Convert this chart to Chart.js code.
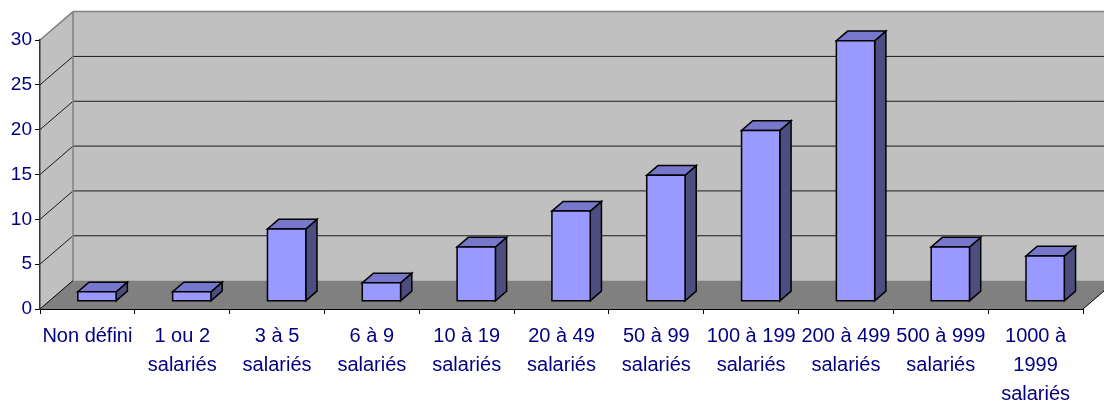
<!DOCTYPE html>
<html>
<head>
<meta charset="utf-8">
<script src="https://cdn.jsdelivr.net/npm/chart.js@4/dist/chart.umd.min.js"></script>
<style>
  html, body { margin: 0; padding: 0; background: #fff; }
  #wrap { width: 1104px; height: 405px; }
</style>
</head>
<body>
<div id="wrap"><canvas id="chart" width="1104" height="405"></canvas></div>
<script>
// categories (multi-line labels as in the original sheet)
const categories = [
  'Non défini',
  ['1 ou 2', 'salariés'],
  ['3 à 5', 'salariés'],
  ['6 à 9', 'salariés'],
  ['10 à 19', 'salariés'],
  ['20 à 49', 'salariés'],
  ['50 à 99', 'salariés'],
  ['100 à 199', 'salariés'],
  ['200 à 499', 'salariés'],
  ['500 à 999', 'salariés'],
  ['1000 à', '1999', 'salariés']
];
const counts = [1, 1, 8, 2, 6, 10, 14, 19, 29, 6, 5];
const yTicks = [0, 5, 10, 15, 20, 25, 30];

// 3d look: depth vector of the floor, and where the bars sit in it
const DEPTH_X = 33;
const DEPTH_Y = -28.4;
const BAR_FRONT = 0.29;
const BAR_BACK = 0.63;
const BAR_WIDTH = 0.404;

const LABEL_COLOR = '#000080';

function poly(ctx, pts, fill, stroke, lw) {
  ctx.beginPath();
  ctx.moveTo(pts[0][0], pts[0][1]);
  for (let i = 1; i < pts.length; i++) ctx.lineTo(pts[i][0], pts[i][1]);
  ctx.closePath();
  if (fill) { ctx.fillStyle = fill; ctx.fill(); }
  if (stroke) { ctx.strokeStyle = stroke; ctx.lineWidth = lw || 1; ctx.stroke(); }
}

function line(ctx, x0, y0, x1, y1, color, lw) {
  ctx.beginPath();
  ctx.moveTo(x0, y0);
  ctx.lineTo(x1, y1);
  ctx.strokeStyle = color;
  ctx.lineWidth = lw || 1;
  ctx.stroke();
}

const walls3d = {
  id: 'walls3d',
  beforeDraw(chart) {
    const { ctx, chartArea: a, scales } = chart;
    const ys = scales.y;
    const dx = DEPTH_X, dy = DEPTH_Y;
    ctx.save();
    // back wall
    poly(ctx, [[a.left + dx, a.top + dy], [a.right + dx, a.top + dy],
               [a.right + dx, a.bottom + dy], [a.left + dx, a.bottom + dy]], '#c0c0c0');
    // side wall
    poly(ctx, [[a.left, a.top], [a.left + dx, a.top + dy],
               [a.left + dx, a.bottom + dy], [a.left, a.bottom]], '#c0c0c0');
    // floor
    poly(ctx, [[a.left, a.bottom], [a.left + dx, a.bottom + dy],
               [a.right + dx, a.bottom + dy], [a.right, a.bottom]], '#808080');

    // grid lines on both walls
    yTicks.forEach(v => {
      if (v === 0) return;
      const y = ys.getPixelForValue(v);
      const c = v === ys.max ? '#808080' : '#1a1a1a';
      const w = v === ys.max ? 1.5 : 1;
      line(ctx, a.left, y, a.left + dx, y + dy, c, w);
      line(ctx, a.left + dx, y + dy, a.right + dx, y + dy, c, w);
    });
    // wall corner
    line(ctx, a.left + dx, a.top + dy, a.left + dx, a.bottom + dy, '#808080', 1.5);
    // floor edges
    line(ctx, a.left, a.bottom, a.left + dx, a.bottom + dy, '#000', 1);
    line(ctx, a.right, a.bottom, a.right + dx, a.bottom + dy, '#000', 1);
    ctx.restore();
  },
  afterDatasetsDraw(chart) {
    const { ctx, scales } = chart;
    const xs = scales.x, ys = scales.y;
    const catW = xs.getPixelForValue(1) - xs.getPixelForValue(0);
    const w = catW * BAR_WIDTH;
    const ox = DEPTH_X * BAR_FRONT, oy = DEPTH_Y * BAR_FRONT;
    const bx = DEPTH_X * (BAR_BACK - BAR_FRONT), by = DEPTH_Y * (BAR_BACK - BAR_FRONT);
    ctx.save();
    ctx.lineJoin = 'miter';
    counts.forEach((v, i) => {
      const cx = xs.getPixelForValue(i);
      const x0 = cx - w / 2 + ox, x1 = cx + w / 2 + ox;
      const yb = ys.getPixelForValue(0) + oy;
      const yt = ys.getPixelForValue(v) + oy;
      // side
      poly(ctx, [[x1, yt], [x1 + bx, yt + by], [x1 + bx, yb + by], [x1, yb]], '#4d4d80', '#000', 1.5);
      // top
      poly(ctx, [[x0, yt], [x1, yt], [x1 + bx, yt + by], [x0 + bx, yt + by]], '#7777cc', '#000', 1.5);
      // front
      poly(ctx, [[x0, yt], [x1, yt], [x1, yb], [x0, yb]], '#9999ff', '#000', 1.5);
    });
    ctx.restore();
  }
};

new Chart(document.getElementById('chart'), {
  type: 'bar',
  data: {
    labels: categories,
    datasets: [{
      data: counts,
      backgroundColor: 'rgba(0,0,0,0)',
      borderWidth: 0
    }]
  },
  options: {
    responsive: false,
    animation: false,
    devicePixelRatio: 1,
    layout: { padding: { top: 40, right: 21, left: 0, bottom: 0 } },
    plugins: {
      legend: { display: false },
      tooltip: { enabled: false }
    },
    scales: {
      x: {
        type: 'category',
        offset: true,
        afterFit: s => { s.height = 96; },
        grid: { offset: true, drawOnChartArea: false, drawTicks: true, tickLength: 5, color: '#000' },
        border: { display: true, color: '#000', width: 1 },
        ticks: {
          autoSkip: false,
          maxRotation: 0,
          minRotation: 0,
          padding: 8,
          color: LABEL_COLOR,
          font: { family: '"Liberation Sans", Arial, sans-serif', size: 20, lineHeight: 1.45 }
        }
      },
      y: {
        min: 0,
        max: 30,
        afterFit: s => { s.width = 40; },
        afterBuildTicks: s => { s.ticks = yTicks.map(v => ({ value: v })); },
        grid: { drawOnChartArea: false, drawTicks: true, tickLength: 5, color: '#000' },
        border: { display: true, color: '#333', width: 1.5 },
        ticks: {
          padding: 3,
          color: LABEL_COLOR,
          font: { family: '"Liberation Sans", Arial, sans-serif', size: 19 }
        }
      }
    }
  },
  plugins: [walls3d]
});
</script>
</body>
</html>
